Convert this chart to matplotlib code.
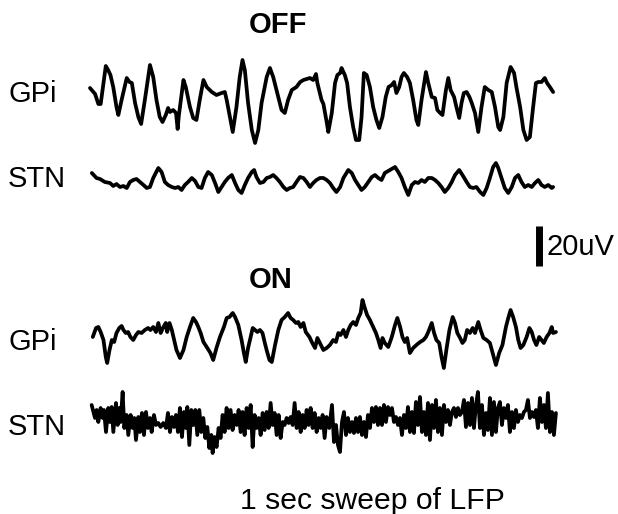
import numpy as np
from matplotlib import pyplot as plt

gpi_off_t = [0, 11, 18, 23, 34, 39, 44, 50, 57, 61, 68, 79, 85, 90, 97, 104, 110, 118, 129, 136,
             143, 150, 156, 163, 168, 172, 179, 185, 188.5, 191, 201, 206, 215, 222, 229, 236, 244,
             251, 262, 272, 283, 290, 294, 301, 307, 315, 322, 328, 333, 340, 348, 355, 362, 369,
             380, 387, 394, 405, 412, 419, 426, 434, 444, 452, 459, 466, 473, 480, 486, 489, 498,
             502, 509, 512.5, 520, 527, 532, 538, 541, 545, 548, 553, 559, 566, 572, 579, 584, 589,
             595, 602, 609, 616, 622, 629, 636, 642, 649, 654, 659, 665, 670, 675, 682, 688, 695,
             702, 706, 713, 722.5, 727.5, 735, 742, 747, 753, 758, 765.5, 770.5, 775.5, 783, 788,
             794, 799, 804, 810, 816, 821, 828, 835, 842, 849, 856.5, 864, 871, 878, 882, 889, 896,
             904.5, 912, 917, 925, 932, 939, 946, 953, 959, 964, 971, 978, 983, 989, 996]
gpi_off_uv = [6, 3, -2, -2, 17, 15, 12.5, 6.5, -3.5, -7.5, 0, 11, 9, 8.5, -1.5, -8.5, -12, 0, 17.5, 11.5,
              0, -8.5, -11, -7.5, -4, -6, -5, -6.5, -14.5, -8, 10, 6.5, -3.5, -9, -10, 0, 10,
              6.5, 4, 2.5, 3.5, 4, 0, -8.5, -16, -3.5, 11.5, 20, 15, -1.5, -15, -21.5, -15, -1.5,
              11.5, 16, 11.5, 1.5, -5, -6.5, 0, 5, 6.5, 9, 10, 10.5, 11, 10, 13, 8.5, 0,
              -2, -11, -16, -6.5, 8.5, 12.5, 13.5, 16, 14, 12.5, 8.5, -3.5, -13.5, -20, -20, -8.5, 13.5,
              12.5, 6.5, -3.5, -10, -14, -8.5, 1.5, 6.5, 7.5, 9, 3.5, 6.5, 11.5, 13.5, 11.5, 8.5, 0,
              -10, -12.5, 0, 14, 8.5, 1.5, 1, -5, -6.5, -7.5, 5, 11, 5, 1.5, -3.5,
              -9, -1.5, 3.5, 4, 1.5, -1.5, -6.5, -16, -3.5, 6.5, 5, 4, -3.5, -13.5, -15, -8.5, 8.5,
              16.5, 13.5, 6.5, -3.5, -15, -20, -18.5, -3.5, 8.5, 9, 9, 11, 8.5, 6.5, 4]

stn_off_t = [4, 14, 21.5, 32, 43, 50, 57, 64.5, 72, 79, 86, 93, 100, 107.5, 115, 122, 129, 136, 147,
             154, 161, 168, 176, 183, 190, 197, 204, 211, 219, 226, 233, 240, 247, 254, 262, 269,
             276, 283, 290, 297, 305, 312, 319, 326, 333, 340, 348, 353, 358, 365.5, 373, 380, 387,
             394, 401, 408.5, 416, 423, 430, 437, 444, 451.5, 459, 466, 473, 480, 487, 494.5, 502,
             509, 516, 523, 530, 538, 545, 555.5, 563, 570, 577, 584, 591, 598.5, 606, 613, 620,
             627, 634, 645, 656, 663, 670, 677, 684.5, 692, 699, 706, 713, 720, 727.5, 735, 742,
             749, 756, 763, 770.5, 778, 785, 794, 801, 810, 817, 824, 831, 839, 846, 853, 860, 867,
             873, 878, 885, 892, 899.5, 907, 914, 921, 928, 935, 942.5, 950, 957, 964, 971, 978,
             985.5, 993, 996]
stn_off_uv = [4.5, 2, 1.5, 0, -0.5, -2, -1, -2.5, -2, -3, 0, 1, 1.5, 0, -1.5, -3, -2.5, 2, 7,
              5, 0, -1.5, -2.5, -3, -2.5, -4, -1.5, 0, 2, 0.5, -2.5, -3, 2, 5, 3.5, -0.5,
              -5, -2.5, 0, 2, 3.5, -0.5, -4, -5.5, -1.5, 2, 5, 6, 2.5, -0.5, 0, 2, 2.5,
              3.5, 2, 0, -2.5, -4, -3, -2.5, 0, 2.5, 2, 0, -2.5, -0.5, 1, 2, 2,
              1, -0.5, -3, -5, -2.5, 2, 6, 4.5, 1, -1.5, -4, -2.5, 0, 2.5, 3.5, 2,
              1, 4.5, 6, 7.5, 5, 2, -2.5, -6.5, -1.5, 0, -0.5, 1, 0, 2, 2, 1,
              -0.5, -2.5, -5, -3, 0, 3.5, 6, 3.5, 0, -2.5, -3, -2.5, -5, -6.5, -3, 2, 7.5,
              9.5, 7, 2, -3, -5.5, -2.5, 2, 3.5, 0, -2.5, -1.5, -2.5, -0.5, 1, -1.5, -2.5,
              -1.5, -3, -2.5]

gpi_on_t = [6, 9, 13, 18, 23, 29, 34, 37, 42, 47, 52, 57, 63, 68, 72, 77, 82, 87, 93, 99, 104, 111,
            118, 125, 130, 136, 142, 147, 152, 158, 163, 166, 171, 176, 181, 186, 193.5, 201, 208,
            215, 222, 228, 233, 238, 244, 251, 259, 265, 272, 279.5, 288, 294, 300, 307, 312, 319,
            326, 331, 335, 340, 345.5, 350, 355, 360, 365.5, 371, 376, 381, 386, 391, 398, 405,
            412, 419, 426, 431.5, 437, 443, 448, 453, 459, 464, 472, 477, 484, 489, 494.5, 502,
            509, 516, 523, 529, 534, 539, 545, 550.5, 555.5, 560.5, 566, 572, 577, 582, 586, 591,
            596, 602, 609, 615, 620, 625, 629, 634, 641.5, 649, 656, 661, 667, 672, 677, 682, 688,
            695, 702, 710, 717, 722.5, 727.5, 735, 740, 745, 751, 756, 761, 767, 773, 780, 785,
            790, 796, 801, 806, 811, 817, 823, 828, 835, 840, 846, 853, 860, 866, 873, 880, 887,
            894.5, 899.5, 904.5, 910, 916, 921, 926, 932, 939, 945, 950, 955, 960, 966, 971, 976,
            982, 988, 993, 996, 1002]
gpi_on_uv = [-1, 1, 3.5, 4, 1.5, -2.5, -11, -14, -7.5, -2.5, -3.5, 1, 3.5, 4.5, 2.5, 1, 1.5, -1, -2.5, 0, 1.5, 1,
             2.5, 3.5, 2.5, 4, 1.5, 6, 1, 4, 6, 1.5, 6, 2.5, -2.5, -7.5, -11.5, -7.5, -1,
             4, 8.5, 6.5, 4, 1, -3.5, -6, -9, -12.5, -6.5, -1, 4, 8.5, 9, 11, 9, 5,
             -2.5, -9, -13.5, -6.5, -1, 3.5, 2.5, 1.5, 2.5, 1, -4, -8.5, -12.5, -13.5, -5, 2.5,
             7.5, 9, 11, 8.5, 7.5, 6, 6.5, 4, 6, 1.5, -1, -3.5, -6.5, -1.5, -4, -7.5,
             -6.5, -5, -2.5, -3.5, 1, 0, 2.5, -1, 2.5, 5, 6.5, 5, 8.5, 11, 17.5, 13.5,
             10, 7.5, 4, 1, -2.5, -6.5, -1.5, -4, -6, -1, 5, 8.5, 4, -1, -3.5, -1.5, -9,
             -6.5, -5, -3.5, -2.5, -1, 1.5, 6, 1, -2.5, -4, -11, -16.5, -6.5, 2.5, 9, 6,
             1, -1.5, -4, -2.5, 2.5, 1, 3.5, 1, 6.5, 2.5, -1.5, -2.5, -4, -9, -15, -9, -5,
             4, 8.5, 12.5, 9, 4, -2.5, -6.5, -5, -1, 3.5, 1.5, -2.5, -5, -1, -2.5, -4,
             -1, 1, 4, 1, 1.5]

stn_on_t = [3.6, 10.8, 14.3, 17.9, 22.9, 27.2, 30.1, 34.4, 39.4, 43, 46.6, 50.2, 55.9, 59.5, 63.1,
            65.9, 70.2, 73.8, 78.8, 82.4, 87.4, 91.7, 95.3, 98.9, 103.9, 107.5, 111.8, 116.1, 120.4,
            124.7, 129, 132.6, 137.6, 141.9, 146.9, 151.9, 157.7, 163.4, 167.7, 172, 176.3, 180.6,
            184.9, 189.2, 193.5, 197.8, 202.1, 206.4, 209.3, 213.6, 217.9, 222.2, 226.5, 230.8,
            235.1, 239.4, 243.7, 248, 252.3, 256.6, 260.9, 263.7, 268, 272.3, 276.6, 280.9, 285.2,
            289.5, 293.8, 298.1, 302.4, 306.7, 311, 315.3, 319.6, 323.9, 328.2, 332.5, 336.9,
            341.2, 345.5, 349.8, 354.1, 358.4, 362.7, 367, 371.3, 375.6, 379.9, 384.2, 388.5,
            392.8, 397.1, 401.4, 405.7, 410, 414.3, 418.6, 422.9, 427.2, 431.5, 435.8, 440.1,
            444.4, 448.7, 453, 457.3, 461.6, 465.9, 470.2, 474.5, 478.8, 483.1, 487.4, 491.7, 496,
            500.3, 504.6, 508.9, 514.6,
            520.4, 524.7, 529, 533.3, 537.6, 541.9, 546.2, 550.5, 554.8, 559.1, 563.4, 567.7, 572,
            576.3, 580.6, 584.9, 589.2, 593.5, 597.8, 602.1, 606.4, 610.7, 615, 619.3, 623.6,
            627.9, 632.2, 636.5, 640.8, 645.1, 649.4, 653.7, 658, 662.3, 666.6, 670.9, 675.2,
            679.5, 683.8, 688.1, 692.4, 696.7, 701, 705.3, 709.6, 713.9, 718.2, 722.5, 726.8,
            731.1, 735.4, 739.7, 744, 748.3, 752.6, 756.9, 761.2, 765.5, 769.8, 774.1, 778.4,
            782.7, 787, 791.3, 795.6, 799.9, 804.2, 808.5, 812.8, 817.1, 821.4, 825.7, 830, 834.3,
            838.6, 842.9, 847.2, 851.5, 855.8, 860.1, 864.4, 868.7, 873, 877.3, 881.6, 885.9,
            890.2, 894.5, 898.8, 903.1, 907.4, 911.7, 916, 920.3, 924.6, 928.9, 933.2, 937.5,
            941.8, 946.1, 950.4, 954.7, 959, 963.3, 967.6, 971.9, 976.2, 980.5, 984.8, 989.1,
            993.4, 997.7, 1002]
stn_on_uv = [7.5, 1, 5, -1, 6, 1, 5, -6, 6, -1, 6.5, -6, 8.5, -2.5, 6,
             -1, 14, -4, 2.5, -7.5, 2.5, -4, 1, -10, 1.5, -6, 3.5, -7.5, 4,
             -4, 1, -6, 2.5, -2.5, -1.5, -3.5, -1.5, -4, 3.5, -6, 1.5, -3.5,
             2.5, -6, 6, -8.5, 4, -4, 6.5, -12.5, 5, -2.5, 5, -7.5,
             5, -6, 1, -9, -3.5, -14, -7.5, -16.5, -8.5, -13.5, -4, -9, 2.5,
             -6, 6, -4, 5, -5, 2.5, -2.5, 5, -6, 4, -7.5, 6,
             -4, 7.5, -13.5, 2.5, -4, 1, -7.5, 3.5, -5, 4, -4, 8.5,
             -2.5, 3.5, -7.5, 2.5, -9, -1, -2.5, 1, -1.5, 1.5, -2.5, 8.5,
             -4, 4, -6, 2.5, -4, 5, -2.5, 6, -4, 3.5, -6, 1, -4,
             2.5, -9, 1.5, -4,
             7.5, -11, -2.5, -12.5, -16, -1, 4, -7.5, 1, -6, -1, -6.5, 1,
             -6, 1.5, -7.5, -1, -8.5, 2.5, -4, 6, -1, 6.5, -2.5, 6,
             -2.5, 7.5, -1, 6.5, 2.5, 6, -1, 1.5, -2.5, 1, -7.5, 2.5,
             -4, 6.5, -6, 4, -6.5, 9, -2.5, 11.5, -6, 4, -7.5, 8.5,
             -10, 7.5, -4, 10, -6, 6, -7.5, 7.5, -1, 5, -2.5, 4,
             6, 1.5, 6, 2.5, 4, 10, -3.5, 8.5, -2.5, 11, -4, 7.5, 14,
             -4, 7.5, -7.5, 3.5, -5, 11, -7.5, 9, -6, 6, 9, -2.5,
             6, 1, 7.5, -6, 4, -4, 5, -1, 2.5, 1, 4, 5,
             10, 1, 4, 1.5, 5, -4, 11, -1, 7.5, -4, 13.5, -6,
             4, -7.5, 3.5]

# (label, times, values, vertical offset in uV)
traces = [
    ("GPi", gpi_off_t, gpi_off_uv, -50),
    ("STN", stn_off_t, stn_off_uv, -91),
    ("GPi", gpi_on_t, gpi_on_uv, -167.5),
    ("STN", stn_on_t, stn_on_uv, -210),
]
label_baselines = [102, 187, 350, 435]

W, H = 618, 514
fig = plt.figure(figsize=(W / 100, H / 100), dpi=100, facecolor="white")
ax = fig.add_axes([0, 0, 1, 1])
ax.set_xlim(-193.5, 1135.5)
ax.set_ylim(-H / 2, 0)
ax.axis("off")

font = "Liberation Sans"
fs = 21

for (name, t, uv, off), base in zip(traces, label_baselines):
    ax.plot(t, np.array(uv) + off, color="black", lw=2.7,
            solid_joinstyle="round", solid_capstyle="round")
    fig.text(8 / W, 1 - base / H, name, fontsize=fs, family=font, va="baseline")

# 20 uV scale bar
ax.plot([966, 966], [-113, -133], color="black", lw=5, solid_capstyle="butt")
fig.text(547 / W, 1 - 255 / H, "20uV", fontsize=fs, family=font, va="baseline")

fig.text(249 / W, 1 - 33 / H, "OFF", fontsize=fs, family=font, weight="bold", va="baseline")
fig.text(249 / W, 1 - 288 / H, "ON", fontsize=fs, family=font, weight="bold", va="baseline")
fig.text(240 / W, 1 - 509 / H, "1 sec sweep of LFP", fontsize=21.7, family=font, va="baseline")

fig.savefig("out.png", dpi=100, facecolor="white")
